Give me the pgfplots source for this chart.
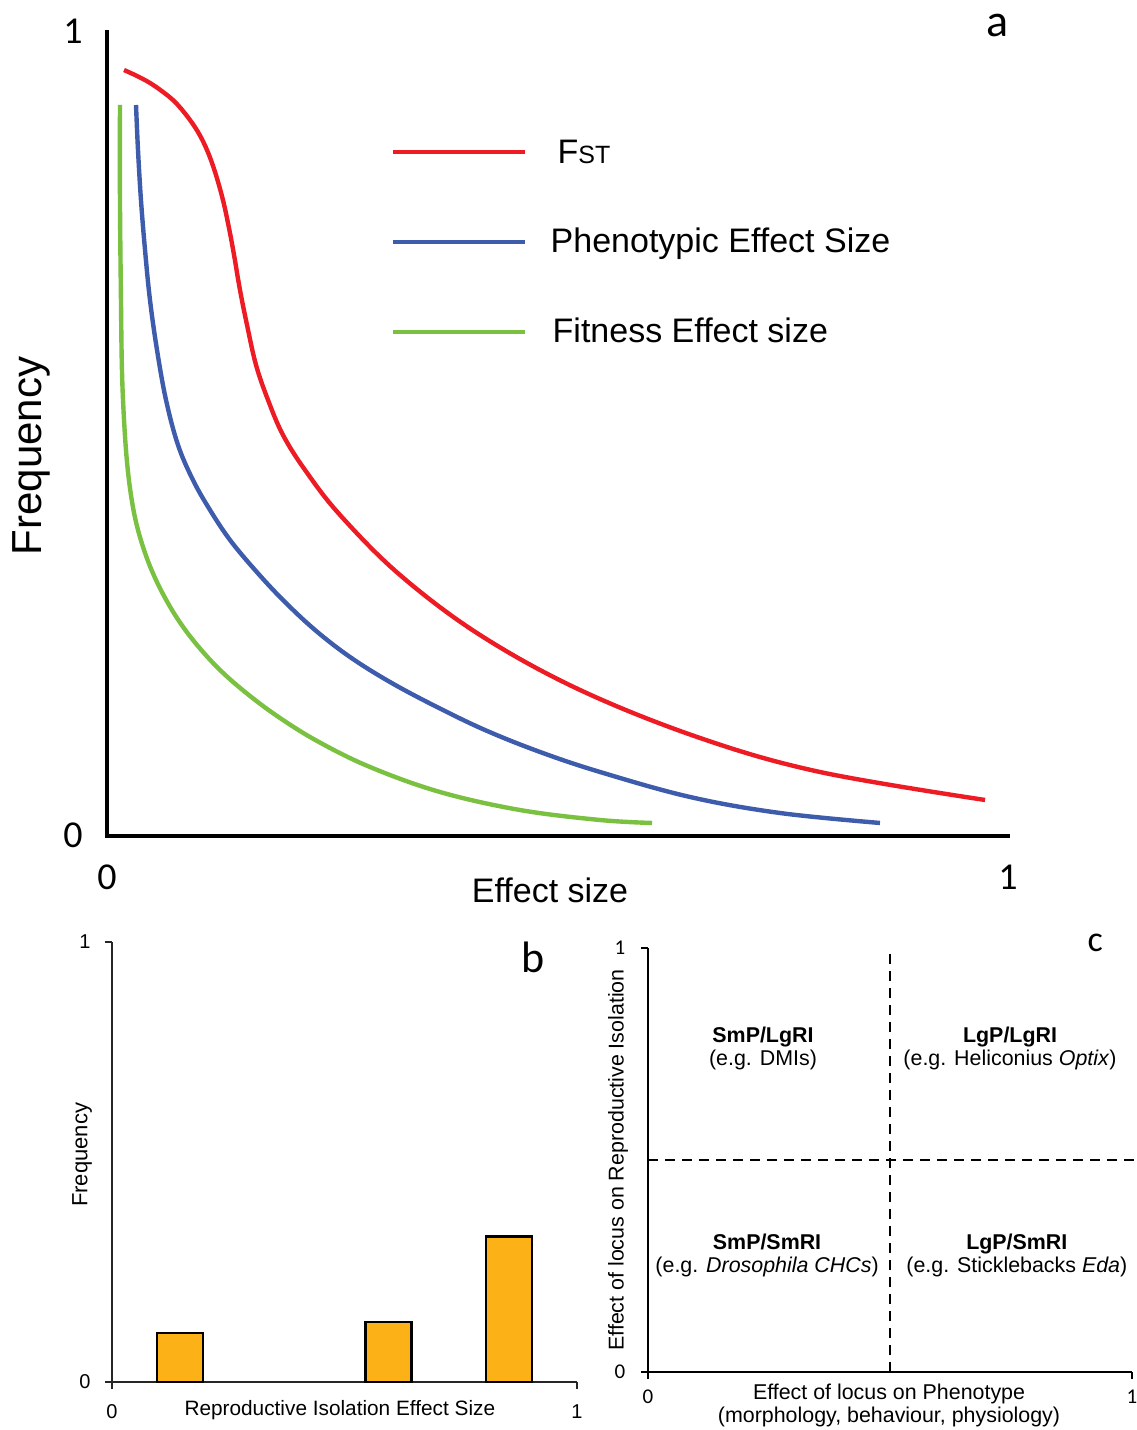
\documentclass[border=0pt]{standalone}
\usepackage{fontspec}
\setmainfont{Liberation Sans}
\newfontfamily\calib{Carlito}
\usepackage{pgfplots}
\pgfplotsset{compat=1.18}
\definecolor{fstred}{RGB}{237,28,36}
\definecolor{phenblue}{RGB}{62,92,172}
\definecolor{fitgreen}{RGB}{122,193,66}
\definecolor{barorange}{RGB}{252,178,23}
\newcommand{\lgt}[1]{\raisebox{0pt}[12.4pt][0pt]{#1}}
\begin{document}
\begin{tikzpicture}
\useasboundingbox (0,0) rectangle (568pt,715pt);

% panel a: frequency distributions
\begin{axis}[
    at={(53.5pt,297pt)}, anchor=south west,
    scale only axis, width=450.5pt, height=402pt,
    xmin=0, xmax=1, ymin=0, ymax=1,
    clip=false,
    axis lines=left,
    axis line style={-, line width=2pt, line cap=rect},
    xtick={0,1}, ytick={0,1},
    major tick length=0pt,
    /pgf/number format/assume math mode=true,
    ticklabel style={font=\calib\fontsize{19}{20}\selectfont},
    xticklabel style={anchor=center, yshift=-20.5pt},
    yticklabel style={anchor=center, xshift=-17pt, yshift=0.5pt},
    xlabel={Effect size},
    xlabel style={at={(rel axis cs:0.4917,-0.0672)}, anchor=center, font=\fontsize{17}{20}\selectfont},
    ylabel={Frequency},
    ylabel style={at={(rel axis cs:-0.0843,0.4726)}, anchor=center, font=\fontsize{21}{24}\selectfont},
    legend cell align=left,
    legend style={draw=none, fill=none, at={(rel axis cs:0.314,0.7388)}, anchor=west,
        inner sep=0pt, row sep=27pt, column sep=10pt,
        font=\fontsize{17}{20}\selectfont},
    legend image code/.code={\draw[#1] (0pt,0pt) -- (66pt,0pt);},
]
\addplot[fstred, line width=2.2pt, smooth, tension=0.6, no markers] coordinates {
(0.0189,0.9527) (0.0333,0.9453) (0.0477,0.9366) (0.0622,0.9254) (0.0755,0.9129)
(0.0888,0.8955) (0.1010,0.8756) (0.1110,0.8532) (0.1199,0.8259) (0.1287,0.7910)
(0.1354,0.7562) (0.1410,0.7226) (0.1476,0.6791) (0.1554,0.6356) (0.1654,0.5858)
(0.1787,0.5423) (0.1953,0.4988) (0.2198,0.4552) (0.2586,0.3993) (0.3252,0.3246)
(0.4140,0.2500) (0.5250,0.1816) (0.6582,0.1219) (0.7913,0.0796) (0.9745,0.0448)};
\addplot[phenblue, line width=2.2pt, smooth, tension=0.6, no markers] coordinates {
(0.0322,0.9092) (0.0344,0.8532) (0.0377,0.7910) (0.0422,0.7289) (0.0477,0.6667)
(0.0555,0.6045) (0.0655,0.5423) (0.0788,0.4863) (0.0954,0.4428) (0.1143,0.4055)
(0.1365,0.3682) (0.1643,0.3308) (0.1953,0.2935) (0.2309,0.2562) (0.2697,0.2226)
(0.3141,0.1915) (0.3640,0.1617) (0.4195,0.1318) (0.4806,0.1045) (0.5472,0.0796)
(0.6471,0.0485) (0.7469,0.0286) (0.8579,0.0162)};
\addplot[fitgreen, line width=2.2pt, smooth, tension=0.6, no markers] coordinates {
(0.0144,0.9092) (0.0144,0.7910) (0.0155,0.6667) (0.0166,0.5796) (0.0189,0.5174)
(0.0222,0.4652) (0.0266,0.4241) (0.0322,0.3905) (0.0400,0.3595) (0.0499,0.3296)
(0.0633,0.2985) (0.0799,0.2674) (0.0999,0.2376) (0.1243,0.2077) (0.1532,0.1791)
(0.1887,0.1493) (0.2331,0.1182) (0.2919,0.0858) (0.3696,0.0547) (0.4584,0.0323)
(0.5472,0.0199) (0.6049,0.0162)};
\legend{\lgt{\hspace{3.5pt}F{\fontsize{12.5}{14}\selectfont ST}},\lgt{Phenotypic Effect Size},\lgt{\hspace{1pt}Fitness Effect size}}
\node[font=\calib\fontsize{23}{26}\selectfont] at (rel axis cs:0.988,1.008) {a};
\end{axis}

% panel b: reproductive isolation histogram
\begin{axis}[
    at={(56pt,24pt)}, anchor=south west,
    scale only axis, width=232.5pt, height=220pt,
    xmin=0, xmax=1, ymin=0, ymax=1,
    clip=false,
    axis lines=left,
    axis line style={-, line width=1.3pt, color=black!85},
    xtick={0,1}, ytick={0,1},
    tick align=outside, major tick length=3.5pt,
    tick style={line width=1.3pt, color=black!85},
    /pgf/number format/assume math mode=true,
    ticklabel style={font=\fontsize{10}{11}\selectfont},
    xticklabel style={anchor=center, yshift=-11.5pt},
    yticklabel style={anchor=center, xshift=-10pt},
    xlabel={Reproductive Isolation Effect Size},
    xlabel style={at={(rel axis cs:0.49,-0.0636)}, anchor=center, font=\fontsize{10.4}{12}\selectfont},
    ylabel={Frequency},
    ylabel style={at={(rel axis cs:-0.0645,0.516)}, anchor=center, font=\fontsize{11}{13}\selectfont},
]
\addplot[ybar, bar width=23pt, fill=barorange, draw=black, line width=1.3pt] coordinates {
(0.1463,0.111) (0.594,0.136) (0.854,0.330)};
\node[font=\calib\fontsize{22}{24}\selectfont] at (rel axis cs:0.905,0.964) {b};
\end{axis}

% panel c: phenotype vs reproductive isolation quadrants
\begin{axis}[
    at={(324pt,29pt)}, anchor=south west,
    scale only axis, width=242pt, height=212pt,
    xmin=0, xmax=1, ymin=0, ymax=1,
    clip=false,
    axis lines=left,
    axis line style={-, line width=1.2pt},
    xtick={0,1}, ytick={0,1},
    tick align=outside, major tick length=3.5pt,
    tick style={line width=1.2pt, color=black},
    /pgf/number format/assume math mode=true,
    ticklabel style={font=\calib\fontsize{10.5}{11}\selectfont},
    xticklabel style={anchor=center, yshift=-9pt},
    yticklabel style={anchor=center, xshift=-10.5pt},
    xlabel={Effect of locus on Phenotype\\(morphology, behaviour, physiology)},
    xlabel style={at={(rel axis cs:0.498,-0.0778)}, anchor=center, align=center, font=\fontsize{10.7}{11.5}\selectfont},
    ylabel={Effect of locus on Reproductive Isolation},
    ylabel style={at={(rel axis cs:-0.062,0.5)}, anchor=center, font=\fontsize{10.7}{12}\selectfont},
]
\addplot[black, line width=1pt, dash pattern=on 5pt off 3.5pt] coordinates {(0.5,0) (0.5,1)};
\addplot[black, line width=1pt, dash pattern=on 5pt off 3.5pt] coordinates {(0,0.5) (1.008,0.5)};
\node[align=center, font=\fontsize{10.7}{11.5}\selectfont] at (axis cs:0.2376,0.762) {\textbf{SmP/LgRI}\\(e.g. DMIs)};
\node[align=center, font=\fontsize{10.7}{11.5}\selectfont] at (axis cs:0.748,0.762) {\textbf{LgP/LgRI}\\(e.g. Heliconius \textit{Optix})};
\node[align=center, font=\fontsize{10.7}{11.5}\selectfont] at (axis cs:0.246,0.276) {\textbf{SmP/SmRI}\\(e.g. \textit{Drosophila CHCs})};
\node[align=center, font=\fontsize{10.7}{11.5}\selectfont] at (axis cs:0.762,0.276) {\textbf{LgP/SmRI}\\(e.g. Sticklebacks \textit{Eda})};
\node[font=\calib\fontsize{18}{20}\selectfont] at (rel axis cs:0.924,1.012) {c};
\end{axis}
\end{tikzpicture}
\end{document}
